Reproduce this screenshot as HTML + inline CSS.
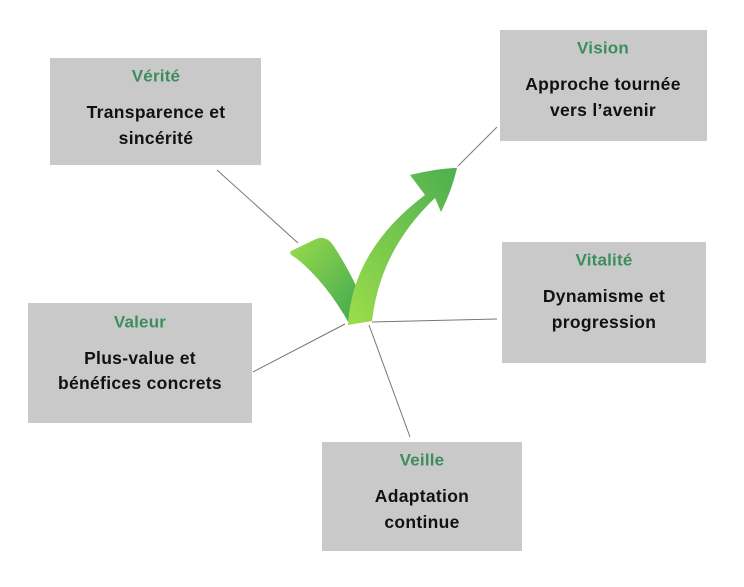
<!DOCTYPE html>
<html><head><meta charset="utf-8"><style>
html,body{margin:0;padding:0;background:#fff;}
svg{display:block;}
text{font-family:"Liberation Sans",sans-serif;font-weight:bold;text-anchor:middle;dominant-baseline:central;}
.t{fill:#3b8e5c;font-size:17px;letter-spacing:0.2px;}
.b{fill:#111;font-size:17.5px;letter-spacing:0.3px;}
</style></head><body>
<svg width="744" height="587" viewBox="0 0 744 587" xmlns="http://www.w3.org/2000/svg">
<defs>
<linearGradient id="g1" x1="0" y1="1" x2="1" y2="0">
<stop offset="0" stop-color="#9ddd4a"/><stop offset="1" stop-color="#4caf50"/></linearGradient>
<linearGradient id="g2" x1="0" y1="0" x2="1" y2="1">
<stop offset="0" stop-color="#9bdb4c"/><stop offset="1" stop-color="#3ea84f"/></linearGradient>
</defs>
<rect width="744" height="587" fill="#fff"/>
<g stroke="#777" stroke-width="1">
<line x1="217" y1="170" x2="298" y2="243"/>
<line x1="497" y1="127" x2="458" y2="166"/>
<line x1="372" y1="322" x2="497" y2="319"/>
<line x1="253" y1="372" x2="345" y2="324"/>
<line x1="369" y1="325" x2="410" y2="437"/>
</g>
<path d="M291,251 L316,239 Q326,235 333,245 Q347,266 359,292 L350,325 Q326,282 296,258 Q288,254 291,251 Z" fill="url(#g2)"/>
<path d="M348,325 Q352,250 425,195 L410,175 Q440,168 457,168 Q452,190 441,212 L435,198 Q380,250 372,321 Z" fill="url(#g1)"/>
<rect x="50" y="58" width="211" height="107" fill="#c9c9c9"/>
<rect x="500" y="30" width="207" height="111" fill="#c9c9c9"/>
<rect x="502" y="242" width="204" height="121" fill="#c9c9c9"/>
<rect x="28" y="303" width="224" height="120" fill="#c9c9c9"/>
<rect x="322" y="442" width="200" height="109" fill="#c9c9c9"/>
<text class="t" x="156" y="76">Vérité</text>
<text class="b" x="156" y="112">Transparence et</text>
<text class="b" x="156" y="138">sincérité</text>
<text class="t" x="603" y="48">Vision</text>
<text class="b" x="603" y="84">Approche tournée</text>
<text class="b" x="603" y="110">vers l’avenir</text>
<text class="t" x="604" y="260">Vitalité</text>
<text class="b" x="604" y="296">Dynamisme et</text>
<text class="b" x="604" y="322">progression</text>
<text class="t" x="140" y="322">Valeur</text>
<text class="b" x="140" y="358">Plus-value et</text>
<text class="b" x="140" y="383">bénéfices concrets</text>
<text class="t" x="422" y="460">Veille</text>
<text class="b" x="422" y="496">Adaptation</text>
<text class="b" x="422" y="522">continue</text>
</svg>
</body></html>
